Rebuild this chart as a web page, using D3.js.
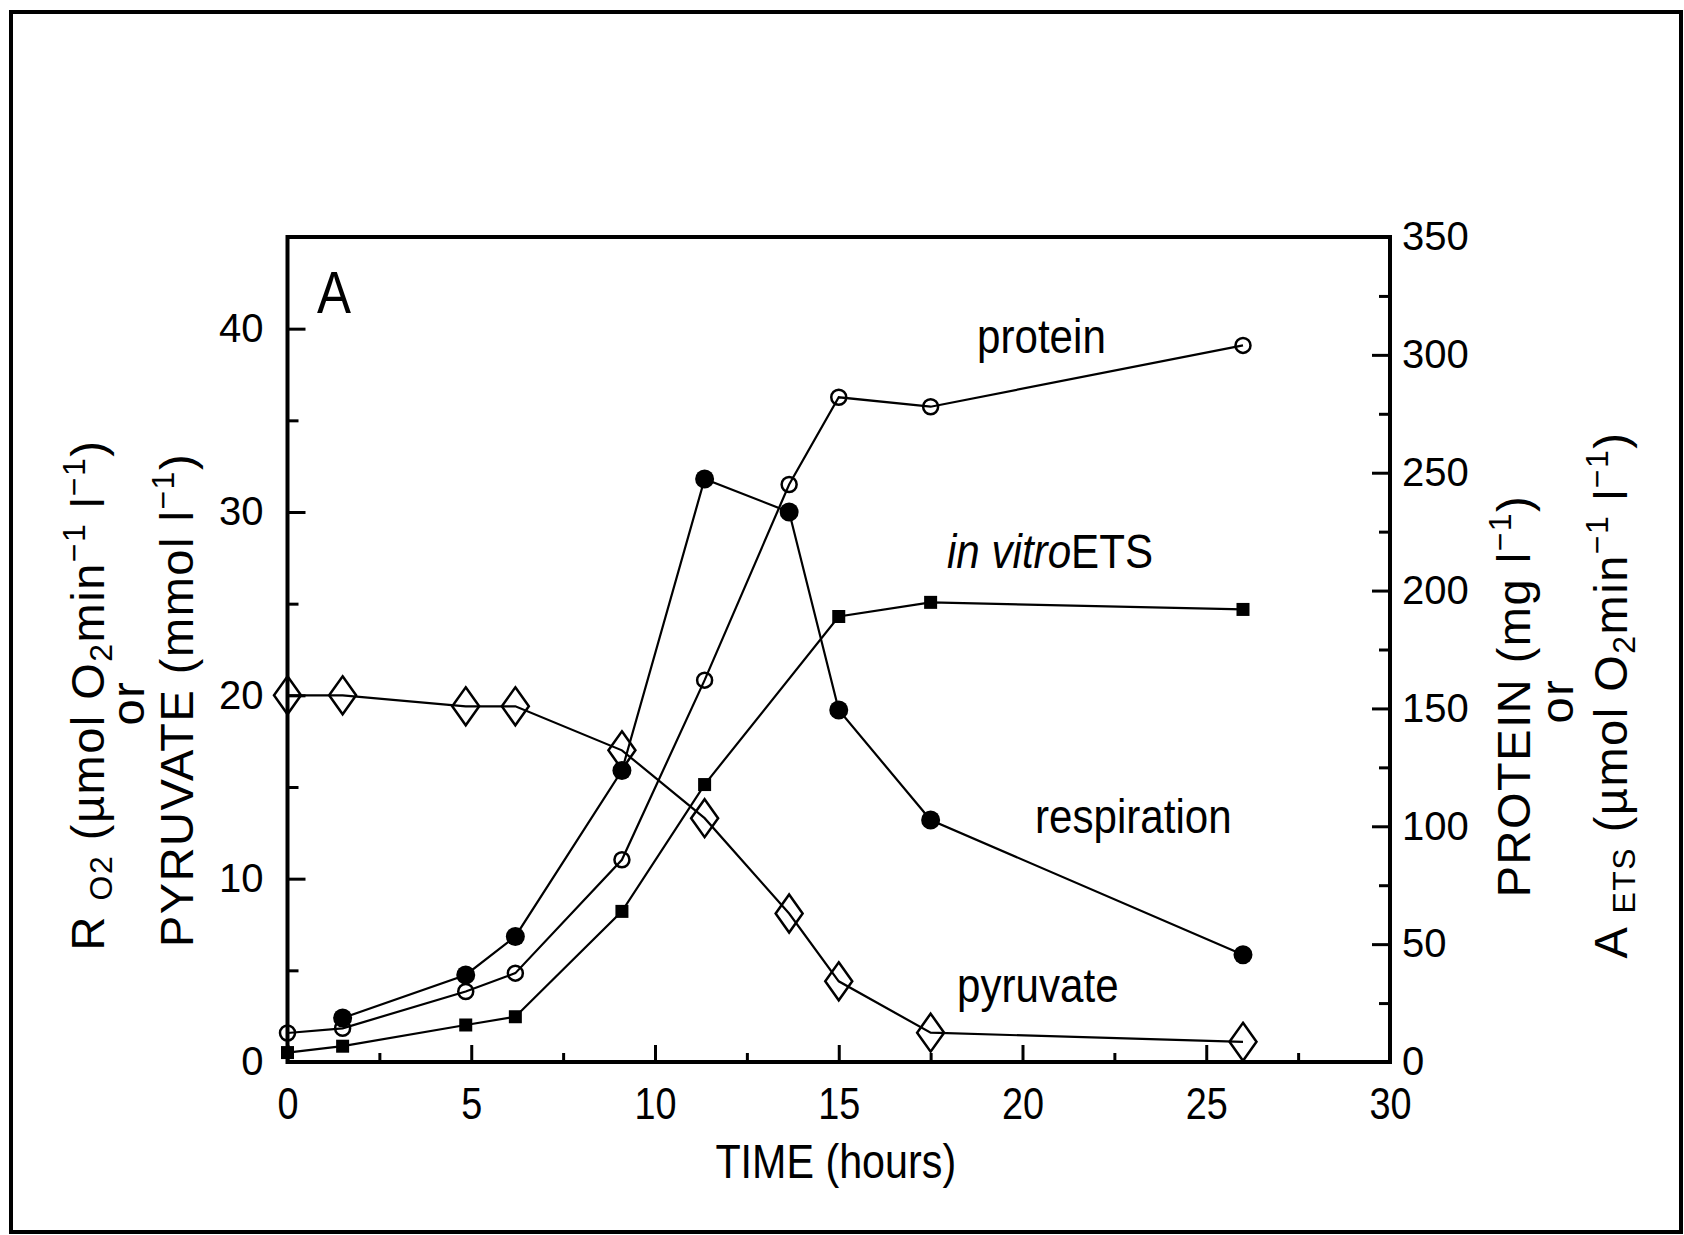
<!DOCTYPE html>
<html>
<head>
<meta charset="utf-8">
<script src="https://cdn.jsdelivr.net/npm/d3@7"></script>
<style>
  html, body { margin: 0; padding: 0; background: #fff; }
  svg { display: block; }
</style>
</head>
<body>
<svg id="chart" width="1684" height="1235"></svg>
<script>
// ---- data ----
const timeAll = [0, 1.5, 4.85, 6.2, 9.1, 11.35, 13.65, 15.0, 17.5, 26.0];

// respiration, R O2 (µmol O2 min-1 l-1), left axis
const respTime = [1.5, 4.85, 6.2, 9.1, 11.35, 13.65, 15.0, 17.5, 26.0];
const respValues = [2.4, 4.75, 6.85, 15.9, 31.8, 30.0, 19.2, 13.2, 5.85];

// pyruvate (mmol l-1), left axis
const pyrTime = timeAll;
const pyrValues = [20.0, 20.0, 19.4, 19.4, 17.0, 13.3, 8.1, 4.4, 1.6, 1.1];

// protein (mg l-1), right axis
const protTime = timeAll;
const protValues = [12.3, 14.3, 29.9, 37.7, 85.8, 162, 245, 282, 278, 304];

// in vitro ETS, right axis
const etsTime = [0, 1.5, 4.85, 6.2, 9.1, 11.35, 15.0, 17.5, 26.0];
const etsValues = [4, 6.7, 15.7, 19.2, 63.9, 117.7, 189, 195, 192];

const xTicks = [0, 5, 10, 15, 20, 25, 30];
const xMinorTicks = [2.5, 7.5, 12.5, 17.5, 22.5, 27.5];
const yLeftTicks = [0, 10, 20, 30, 40];
const yLeftMinor = [5, 15, 25, 35];
const yRightTicks = [0, 50, 100, 150, 200, 250, 300, 350];
const yRightMinor = [25, 75, 125, 175, 225, 275, 325];

// ---- layout ----
const L = 287.5, R = 1390, T = 237, B = 1062;
const svg = d3.select("#chart");
const FONT = "'Liberation Sans', Arial, sans-serif";
const NARROW_SCALE = 0.86;

const x = d3.scaleLinear().domain([0, 30]).range([L, R]);
const yL = d3.scaleLinear().domain([0, 45]).range([B, T]);
const yR = d3.scaleLinear().domain([0, 350]).range([B, T]);

// outer border
svg.append("rect").attr("x", 11).attr("y", 12).attr("width", 1670).attr("height", 1220)
  .attr("fill", "none").attr("stroke", "#000").attr("stroke-width", 4);

function styleAxis(g) {
  g.select(".domain").remove();
  g.selectAll(".tick line").attr("stroke", "#000").attr("stroke-width", 3);
}

const xAxis = svg.append("g").attr("transform", `translate(0,${B})`)
  .call(d3.axisBottom(x).tickValues(xTicks).tickSizeInner(-17).tickSizeOuter(0).tickPadding(26).tickFormat(d3.format("d")));
styleAxis(xAxis);
xAxis.selectAll("text").attr("font-family", FONT).attr("font-size", 44).attr("fill", "#000")
  .attr("transform", `scale(${NARROW_SCALE},1)`);
svg.append("g").attr("transform", `translate(0,${B})`)
  .call(d3.axisBottom(x).tickValues(xMinorTicks).tickSizeInner(-9).tickSizeOuter(0).tickFormat(""))
  .call(styleAxis);

const yLAxis = svg.append("g").attr("transform", `translate(${L},0)`)
  .call(d3.axisLeft(yL).tickValues(yLeftTicks).tickSizeInner(-18).tickSizeOuter(0).tickPadding(24).tickFormat(d3.format("d")));
styleAxis(yLAxis);
yLAxis.selectAll("text").attr("font-family", FONT).attr("font-size", 40).attr("fill", "#000");
svg.append("g").attr("transform", `translate(${L},0)`)
  .call(d3.axisLeft(yL).tickValues(yLeftMinor).tickSizeInner(-11).tickSizeOuter(0).tickFormat(""))
  .call(styleAxis);

const yRAxis = svg.append("g").attr("transform", `translate(${R},0)`)
  .call(d3.axisRight(yR).tickValues(yRightTicks).tickSizeInner(-18).tickSizeOuter(0).tickPadding(12).tickFormat(d3.format("d")));
styleAxis(yRAxis);
yRAxis.selectAll("text").attr("font-family", FONT).attr("font-size", 40).attr("fill", "#000");
svg.append("g").attr("transform", `translate(${R},0)`)
  .call(d3.axisRight(yR).tickValues(yRightMinor).tickSizeInner(-11).tickSizeOuter(0).tickFormat(""))
  .call(styleAxis);

// plot frame
svg.append("rect").attr("x", L).attr("y", T).attr("width", R - L).attr("height", B - T)
  .attr("fill", "none").attr("stroke", "#000").attr("stroke-width", 4);

// ---- series ----
function series(times, vals, yScale) {
  return times.map((t, i) => [x(t), yScale(vals[i])]);
}
const line = d3.line();
const plot = svg.append("g");
const sets = [
  series(pyrTime, pyrValues, yL),
  series(respTime, respValues, yL),
  series(protTime, protValues, yR),
  series(etsTime, etsValues, yR)
];
sets.forEach(pts => plot.append("path").attr("d", line(pts))
  .attr("fill", "none").attr("stroke", "#000").attr("stroke-width", 2.2));

plot.selectAll(".pyr").data(sets[0]).join("path")
  .attr("d", d => `M${d[0]},${d[1] - 19}L${d[0] + 13.5},${d[1]}L${d[0]},${d[1] + 19}L${d[0] - 13.5},${d[1]}Z`)
  .attr("fill", "none").attr("stroke", "#000").attr("stroke-width", 2.5);
plot.selectAll(".prot").data(sets[2]).join("circle")
  .attr("cx", d => d[0]).attr("cy", d => d[1]).attr("r", 7.5)
  .attr("fill", "none").attr("stroke", "#000").attr("stroke-width", 2.5);
plot.selectAll(".ets").data(sets[3]).join("rect")
  .attr("x", d => d[0] - 6.5).attr("y", d => d[1] - 6.5).attr("width", 13).attr("height", 13)
  .attr("fill", "#000");
plot.selectAll(".resp").data(sets[1]).join("circle")
  .attr("cx", d => d[0]).attr("cy", d => d[1]).attr("r", 9.5).attr("fill", "#000");

// ---- text ----
svg.append("text").attr("transform", "translate(317,313) scale(0.85,1)").attr("font-family", FONT)
  .attr("font-size", 60).attr("font-weight", 300).text("A");

function label(txt, xx, yy, italicPart) {
  const t = svg.append("text").attr("transform", `translate(${xx},${yy}) scale(${NARROW_SCALE},1)`)
    .attr("font-family", FONT).attr("font-size", 49).attr("fill", "#000");
  if (italicPart) t.append("tspan").attr("font-style", "italic").text(italicPart);
  t.append("tspan").text(txt);
  return t;
}
label("protein", 977, 353);
label("ETS", 947, 568, "in vitro");
label("respiration", 1035, 833);
label("pyruvate", 957, 1002);

svg.append("text").attr("transform", `translate(${(L + R) / 2 - 3},1178) scale(${NARROW_SCALE},1)`)
  .attr("text-anchor", "middle").attr("font-family", FONT).attr("font-size", 48).text("TIME (hours)");

// rotated axis labels
function rotLabel(xx, yy, parts) {
  const t = svg.append("text").attr("transform", `translate(${xx},${yy}) rotate(-90)`)
    .attr("text-anchor", "middle").attr("font-family", FONT).attr("font-size", 47)
    .attr("letter-spacing", 1.5).attr("fill", "#000");
  parts.forEach(p => {
    const s = t.append("tspan").text(p.t);
    if (p.sub) s.attr("font-size", 32).attr("dy", 8);
    if (p.sup) s.attr("font-size", 32).attr("dy", -19);
    if (p.back) s.attr("dy", p.back);
  });
  return t;
}
rotLabel(104, 695, [
  {t: "R "}, {t: "O2", sub: true}, {t: " (µmol O", back: -8}, {t: "2", sub: true},
  {t: "min", back: -8}, {t: "−1", sup: true}, {t: " l", back: 19}, {t: "−1", sup: true}, {t: ")", back: 19}
]);
rotLabel(144, 703, [{t: "or"}]);
rotLabel(193, 700, [
  {t: "PYRUVATE (mmol l"}, {t: "−1", sup: true}, {t: ")", back: 19}
]);
rotLabel(1530, 696, [
  {t: "PROTEIN (mg l"}, {t: "−1", sup: true}, {t: ")", back: 19}
]);
rotLabel(1573, 701, [{t: "or"}]);
rotLabel(1627, 695, [
  {t: "A "}, {t: "ETS", sub: true}, {t: " (µmol O", back: -8}, {t: "2", sub: true},
  {t: "min", back: -8}, {t: "−1", sup: true}, {t: " l", back: 19}, {t: "−1", sup: true}, {t: ")", back: 19}
]);
</script>
</body>
</html>
